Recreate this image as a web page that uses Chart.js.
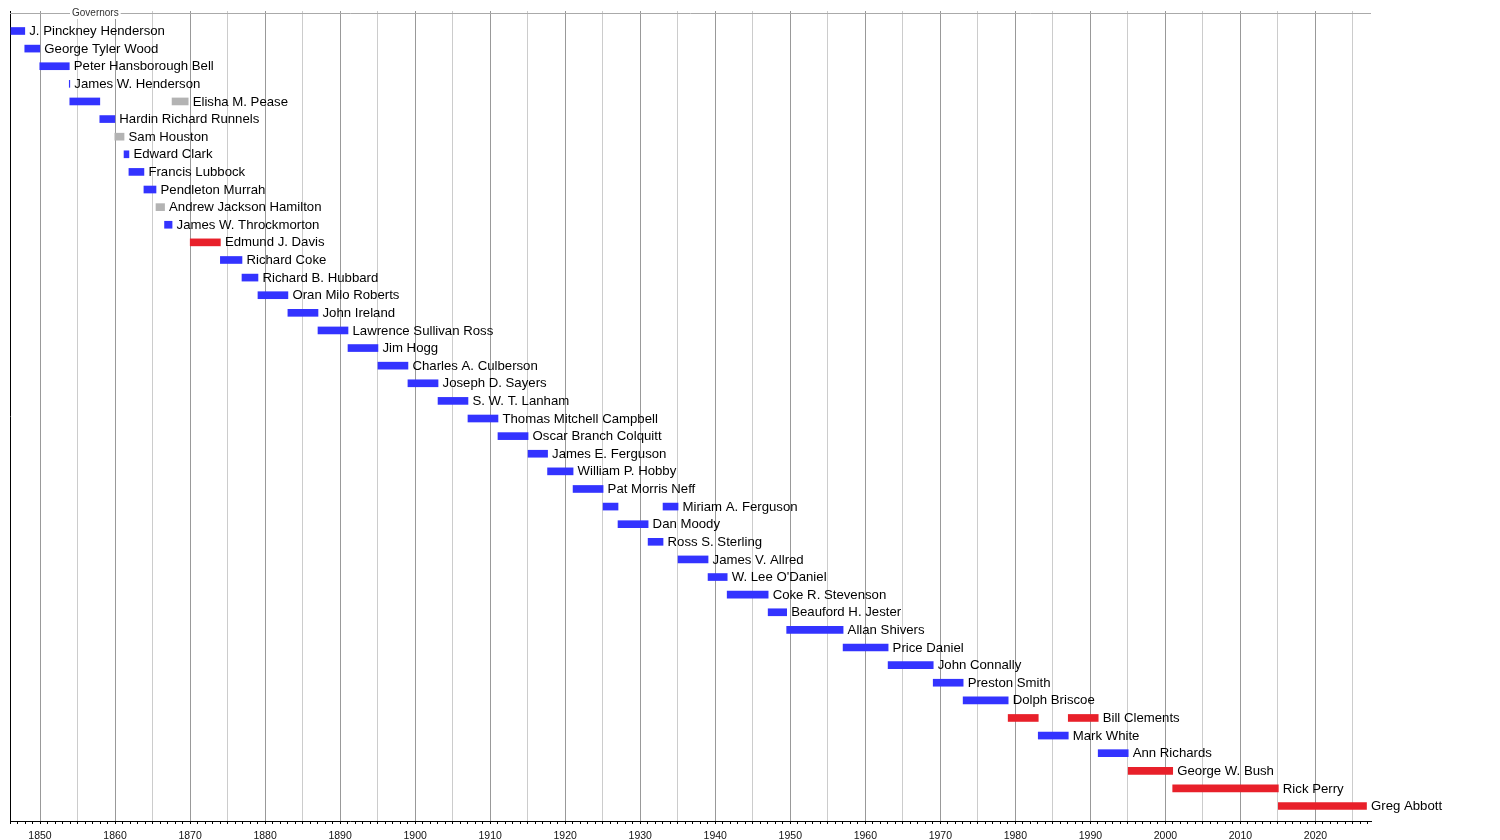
<!DOCTYPE html>
<html>
<head>
<meta charset="utf-8">
<title>Governors of Texas</title>
<script src="https://cdn.jsdelivr.net/npm/chart.js@4"></script>
<style>
    html, body { margin: 0; padding: 0; background: #fff; }
    #wrap { width: 1500px; height: 840px; position: relative; }
</style>
</head>
<body>
<div id="wrap"><canvas id="timelineChart"></canvas></div>
<script>
// Governors, one row each, top to bottom
const governors = [
    'J. Pinckney Henderson', 'George Tyler Wood', 'Peter Hansborough Bell', 'James W. Henderson',
    'Elisha M. Pease', 'Hardin Richard Runnels', 'Sam Houston', 'Edward Clark', 'Francis Lubbock',
    'Pendleton Murrah', 'Andrew Jackson Hamilton', 'James W. Throckmorton', 'Edmund J. Davis',
    'Richard Coke', 'Richard B. Hubbard', 'Oran Milo Roberts', 'John Ireland',
    'Lawrence Sullivan Ross', 'Jim Hogg', 'Charles A. Culberson', 'Joseph D. Sayers',
    'S. W. T. Lanham', 'Thomas Mitchell Campbell', 'Oscar Branch Colquitt', 'James E. Ferguson',
    'William P. Hobby', 'Pat Morris Neff', 'Miriam A. Ferguson', 'Dan Moody', 'Ross S. Sterling',
    'James V. Allred', "W. Lee O'Daniel", 'Coke R. Stevenson', 'Beauford H. Jester',
    'Allan Shivers', 'Price Daniel', 'John Connally', 'Preston Smith', 'Dolph Briscoe',
    'Bill Clements', 'Mark White', 'Ann Richards', 'George W. Bush', 'Rick Perry', 'Greg Abbott'
];

// First (or only) term of each governor, in decimal years
const termStart = [
    1846.13, 1847.97, 1849.97, 1853.90, 1853.97, 1857.97, 1859.97, 1861.20, 1861.85,
    1863.85, 1865.46, 1866.60, 1870.02, 1874.04, 1876.92, 1879.05, 1883.04,
    1887.05, 1891.05, 1895.04, 1899.04, 1903.05, 1907.04, 1911.04, 1915.05,
    1917.65, 1921.05, 1925.05, 1927.04, 1931.05, 1935.04, 1939.04, 1941.59, 1947.05,
    1949.52, 1957.04, 1963.04, 1969.05, 1973.04, 1979.04, 1983.05, 1991.04, 1995.04,
    2000.97, 2015.05
];
const termEnd = [
    1847.97, 1849.97, 1853.90, 1853.97, 1857.97, 1859.97, 1861.20, 1861.85, 1863.85,
    1865.46, 1866.60, 1867.60, 1874.04, 1876.92, 1879.05, 1883.04, 1887.05,
    1891.05, 1895.04, 1899.04, 1903.05, 1907.04, 1911.04, 1915.05, 1917.65,
    1921.05, 1925.05, 1927.04, 1931.05, 1933.04, 1939.04, 1941.59, 1947.05, 1949.52,
    1957.04, 1963.04, 1969.05, 1973.04, 1979.04, 1983.05, 1987.05, 1995.04, 2000.97,
    2015.05, 2026.80
];
// D = Democratic, R = Republican, O = other / unaffiliated
const termParty = [
    'D', 'D', 'D', 'D', 'D', 'D', 'O', 'D', 'D',
    'D', 'O', 'D', 'R', 'D', 'D', 'D', 'D',
    'D', 'D', 'D', 'D', 'D', 'D', 'D', 'D',
    'D', 'D', 'D', 'D', 'D', 'D', 'D', 'D', 'D',
    'D', 'D', 'D', 'D', 'D', 'R', 'D', 'D', 'R',
    'R', 'R'
];

// Second, non-consecutive terms
const secondRow = [4, 27, 39];
const secondStart = [1867.60, 1933.04, 1987.05];
const secondEnd = [1869.75, 1935.04, 1991.04];
const secondParty = ['O', 'D', 'R'];

// Axis range and tick labels
const yearMin = 1846;
const yearMax = 2027.4;
const decadeLabels = [1850, 1860, 1870, 1880, 1890, 1900, 1910, 1920, 1930, 1940,
    1950, 1960, 1970, 1980, 1990, 2000, 2010, 2020];

const partyColor = { D: '#3333ff', R: '#e8202a', O: '#b3b3b3' };
const FONT = "'Liberation Sans', Arial, Helvetica, sans-serif";

// Names to the right of each row's last bar, plus the top rule and its caption
const timelineDecor = {
    id: 'timelineDecor',
    beforeDatasetsDraw(chart) {
        const ctx = chart.ctx;
        const area = chart.chartArea;
        ctx.save();
        ctx.strokeStyle = '#aaaaaa';
        ctx.lineWidth = 1;
        ctx.beginPath();
        ctx.moveTo(area.left, area.top + 2.5);
        ctx.lineTo(area.right, area.top + 2.5);
        ctx.stroke();
        ctx.restore();
    },
    afterDatasetsDraw(chart) {
        const ctx = chart.ctx;
        const area = chart.chartArea;
        const ends = {};

        chart.data.datasets.forEach((ds, d) => {
            const meta = chart.getDatasetMeta(d);
            meta.data.forEach((el, j) => {
                const row = ds.data[j].y;
                const right = Math.max(el.x, el.base);
                if (!ends[row] || right > ends[row].x) {
                    ends[row] = { x: right, y: el.y };
                }
            });
        });

        ctx.save();
        ctx.font = '13.2px ' + FONT;
        ctx.fillStyle = '#000';
        ctx.textAlign = 'left';
        ctx.textBaseline = 'middle';
        governors.forEach((name, i) => {
            if (ends[i]) ctx.fillText(name, ends[i].x + 4.5, ends[i].y + 0.5);
        });

        // caption on the top rule
        ctx.font = '10px ' + FONT;
        const capX = area.left + 62;
        const capW = ctx.measureText('Governors').width;
        ctx.fillStyle = '#fff';
        ctx.fillRect(capX - 2, area.top - 4, capW + 4, 12);
        ctx.fillStyle = '#333';
        ctx.fillText('Governors', capX, area.top + 2.5);
        ctx.restore();
    }
};

const firstTerms = governors.map((name, i) => ({ x: [termStart[i], termEnd[i]], y: i }));
const laterTerms = secondRow.map((row, k) => ({ x: [secondStart[k], secondEnd[k]], y: row }));

new Chart(document.getElementById('timelineChart'), {
    type: 'bar',
    data: {
        datasets: [{
            label: 'Term',
            data: firstTerms,
            backgroundColor: termParty.map(p => partyColor[p]),
            grouped: false,
            barThickness: 7,
            borderWidth: 0
        }, {
            label: 'Second term',
            data: laterTerms,
            backgroundColor: secondParty.map(p => partyColor[p]),
            grouped: false,
            barThickness: 7,
            borderWidth: 0
        }]
    },
    options: {
        indexAxis: 'y',
        responsive: true,
        maintainAspectRatio: false,
        animation: false,
        layout: {
            padding: { left: 10, right: 129, top: 11, bottom: 0 }
        },
        plugins: {
            legend: { display: false },
            tooltip: { enabled: false }
        },
        scales: {
            x: {
                type: 'linear',
                min: yearMin,
                max: yearMax,
                afterFit: scale => { scale.height = 19; },
                grid: {
                    color: ctx => {
                        const v = ctx.tick ? ctx.tick.value : 0;
                        if (v % 10 === 0) return '#999999';
                        if (v % 5 === 0) return '#cccccc';
                        return 'rgba(0,0,0,0)';
                    },
                    tickColor: '#000',
                    tickLength: 3,
                    lineWidth: 1
                },
                border: { color: '#000', width: 1 },
                ticks: {
                    stepSize: 1,
                    autoSkip: false,
                    maxRotation: 0,
                    includeBounds: false,
                    padding: 6,
                    color: '#111',
                    font: { family: FONT, size: 10.5 },
                    callback: v => decadeLabels.includes(v) ? String(v) : ''
                }
            },
            y: {
                type: 'linear',
                reverse: true,
                offset: false,
                min: -1.135,
                max: 44.85,
                grid: { display: false, drawTicks: false, offset: false },
                border: { color: '#000', width: 1 },
                ticks: { display: false }
            }
        }
    },
    plugins: [timelineDecor]
});
</script>
</body>
</html>
